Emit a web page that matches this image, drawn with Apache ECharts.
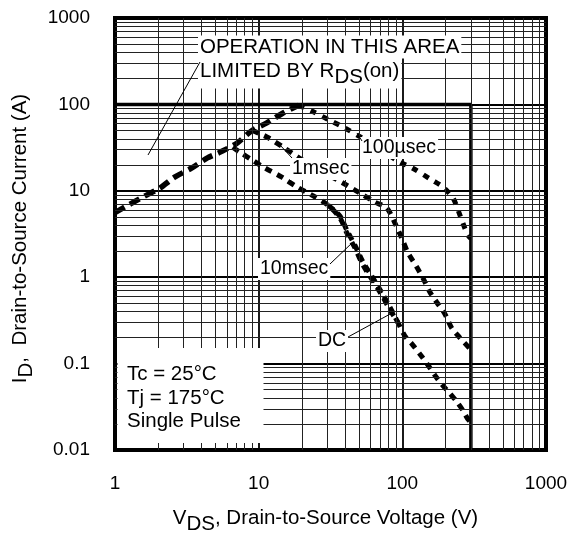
<!DOCTYPE html>
<html>
<head>
<meta charset="utf-8">
<script src="https://cdn.jsdelivr.net/npm/echarts@6/dist/echarts.min.js"></script>
<style>
  html, body { margin: 0; padding: 0; background: #fff; }
  #chart { width: 578px; height: 533px; }
</style>
</head>
<body>
<div id="chart"></div>
<script>
// tick labels
var xTickLabels = ['1', '10', '100', '1000'];
var yTickLabels = ['0.01', '0.1', '1', '10', '100', '1000'];
var minorSteps = [2, 3, 4, 5, 6, 7, 8, 9];

// limit by Rds(on) -- common rising part
var riseV = [1, 1.57, 2.06, 2.6, 3.43, 4.4, 5.4, 7.06, 9.0, 11.4, 14.7, 19];
var riseI = [5.6, 8.5, 10.8, 14.4, 18.4, 24, 28, 35.6, 50, 61, 79, 98];

// 100 usec
var us100V = [19, 24, 31, 40, 51, 70, 96, 117, 161, 191, 225, 244, 263, 285, 300];
var us100I = [98, 82, 66, 53, 42, 30, 21.5, 18.4, 13.3, 11.1, 8.25, 6.0, 4.3, 3.1, 2.8];

// 1 msec
var ms1V = [9, 11.4, 14.8, 20, 28, 38.6, 50.8, 64.4, 78, 89, 99, 109, 126, 139, 155, 174, 197, 220, 251, 300];
var ms1I = [50, 42, 32, 23, 16.5, 12.3, 9.4, 7.4, 6.3, 4.2, 2.84, 1.95, 1.31, 0.98, 0.68, 0.51, 0.38, 0.26, 0.20, 0.145];

// 10 msec (leaves the DC curve near 30 V, joins it again near 90 V)
var ms10V = [30.4, 36.8, 41.1, 46.8, 53, 62.6, 72, 82, 93];
var ms10I = [6.8, 5.1, 3.5, 2.33, 1.52, 0.97, 0.66, 0.45, 0.30];

// DC
var dcV = [6.6, 7.4, 9.1, 11.1, 14.5, 18.4, 23.5, 30.4, 36.8, 41.1, 46.8, 53, 62.6, 72, 82, 93, 104, 118, 137, 155, 174, 191, 215, 240, 263, 285, 300];
var dcI = [32, 28, 22.5, 18.3, 14.4, 11.1, 8.9, 6.8, 4.85, 3.25, 2.18, 1.4, 0.9, 0.62, 0.42, 0.30, 0.21, 0.165, 0.12, 0.09, 0.068, 0.056, 0.045, 0.036, 0.029, 0.023, 0.021];

// package / voltage limit box
var limitV = [1, 300, 300];
var limitI = [100, 100, 0.01];

var FONT = "'Liberation Sans', Arial, sans-serif";

function pairs(v, i) {
    return v.map(function (x, k) { return [x, i[k]]; });
}

var minorLines = [];
[1, 10, 100].forEach(function (d) {
    minorSteps.forEach(function (s) { minorLines.push({ xAxis: d * s }); });
});
[0.01, 0.1, 1, 10, 100].forEach(function (d) {
    minorSteps.forEach(function (s) { minorLines.push({ yAxis: +(d * s).toPrecision(3) }); });
});

function curve(name, v, i, dash, width) {
    return {
        name: name,
        type: 'line',
        data: pairs(v, i),
        showSymbol: false,
        smooth: 0.3,
        z: 4,
        lineStyle: { color: '#000', width: width, type: dash, cap: 'butt' }
    };
}

var nameRich = {
    n: { fontFamily: FONT, fontSize: 20.5, color: '#000' },
    s: { fontFamily: FONT, fontSize: 20.5, color: '#000', padding: [12, 0, 0, 0] }
};

var chart = echarts.init(document.getElementById('chart'));

var option = {
    animation: false,
    backgroundColor: '#fff',
    grid: {
        left: 115, top: 18, right: 32, bottom: 83,
        outerBoundsMode: 'none',
        containLabel: false,
        show: true, borderColor: '#000', borderWidth: 4
    },
    xAxis: {
        type: 'log', logBase: 10, min: 1, max: 1000,
        name: '{n|V}{s|DS}{n|, Drain-to-Source Voltage (V)}',
        nameLocation: 'middle',
        nameGap: 52,
        nameTextStyle: { rich: nameRich, padding: [0, 10, 0, 0] },
        axisLine: { show: false },
        axisTick: { show: false },
        axisLabel: {
            margin: 24, fontFamily: FONT, fontSize: 19, color: '#000',
            showMinLabel: true, showMaxLabel: true,
            formatter: function (v) { return xTickLabels[Math.round(Math.log10(v))]; }
        },
        splitLine: { show: true, lineStyle: { color: '#000', width: 1.8 } }
    },
    yAxis: {
        type: 'log', logBase: 10, min: 0.01, max: 1000,
        name: '{n|I}{s|D}{n|,  Drain-to-Source Current (A)}',
        nameLocation: 'middle',
        nameGap: 76,
        nameTextStyle: { rich: nameRich, padding: [0, 9, 0, 0] },
        axisLine: { show: false },
        axisTick: { show: false },
        axisLabel: {
            margin: 25, fontFamily: FONT, fontSize: 19, color: '#000',
            showMinLabel: true, showMaxLabel: true,
            formatter: function (v) { return yTickLabels[Math.round(Math.log10(v)) + 2]; }
        },
        splitLine: { show: true, lineStyle: { color: '#000', width: 1.8 } }
    },
    series: [
        {
            name: 'minor grid',
            type: 'line',
            data: [],
            z: 1,
            silent: true,
            markLine: {
                silent: true,
                symbol: ['none', 'none'],
                label: { show: false },
                lineStyle: { color: '#222', width: 1, type: 'solid' },
                emphasis: { disabled: true },
                data: minorLines
            }
        },
        {
            name: 'limit',
            type: 'line',
            data: pairs(limitV, limitI),
            showSymbol: false,
            z: 3,
            lineStyle: { color: '#000', width: 3.5, type: 'solid' }
        },
        curve('Rds(on)', riseV, riseI, [11, 6], 5.5),
        curve('100usec', us100V, us100I, [6, 7], 5),
        curve('1msec', ms1V, ms1I, [7, 6], 5),
        curve('10msec', ms10V, ms10I, [7, 5], 5),
        curve('DC', dcV, dcI, [7, 6], 5)
    ]
};
chart.setOption(option);

// annotations: text boxes with white background, and leader lines
function label(x, y, text, size, extra) {
    var style = {
        text: text, fill: '#000', font: size + 'px ' + FONT,
        backgroundColor: '#fff', padding: [1, 2, 1, 2],
        verticalAlign: 'middle', align: 'left'
    };
    if (extra) { for (var k in extra) style[k] = extra[k]; }
    return { type: 'text', x: x, y: y, z: 50, silent: true, style: style };
}
function leader(x1, y1, x2, y2) {
    return {
        type: 'line', z: 51, silent: true,
        shape: { x1: x1, y1: y1, x2: x2, y2: y2 },
        style: { stroke: '#000', lineWidth: 1 }
    };
}

chart.setOption({
    graphic: [
        { type: 'rect', z: 49, silent: true,
          shape: { x: 117.5, y: 348, width: 146, height: 95 },
          style: { fill: '#fff' } },
        label(125, 374, 'Tc = 25°C', 20.5, { backgroundColor: null }),
        label(125, 398, 'Tj = 175°C', 20.5, { backgroundColor: null }),
        label(125, 421, 'Single Pulse', 20.5, { backgroundColor: null }),
        label(198, 47, 'OPERATION IN THIS AREA', 20.5),
        label(198, 71, '{n|LIMITED BY R}{s|DS}{n|(on)}', 20.5, {
            rich: {
                n: { font: '20.5px ' + FONT, fill: '#000' },
                s: { font: '20.5px ' + FONT, fill: '#000', padding: [12, 0, 0, 0] }
            }
        }),
        leader(200, 62, 148, 155),
        label(360, 148, '100µsec', 19.5),
        leader(357, 133, 362, 141),
        label(290, 169, '1msec', 19.5),
        leader(280, 145, 292, 158),
        label(258, 269, '10msec', 19.5),
        leader(330, 264, 353, 242),
        label(316, 341, 'DC', 19.5),
        leader(348, 337, 392, 313)
    ]
});
</script>
</body>
</html>
